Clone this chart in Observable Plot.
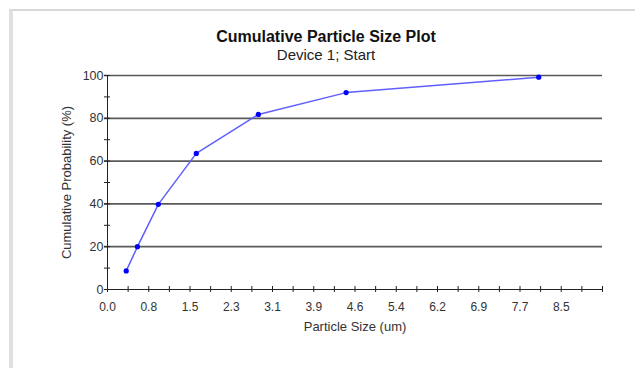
<!DOCTYPE html>
<html>
<head>
<meta charset="utf-8">
<script src="https://cdn.jsdelivr.net/npm/d3@7"></script>
<script src="https://cdn.jsdelivr.net/npm/@observablehq/plot@0.6"></script>
<style>
  html, body { margin: 0; padding: 0; background: #fff; }
  #wrap { position: relative; width: 635px; height: 368px; overflow: hidden; font-family: "Liberation Sans", Arial, sans-serif; }
  #frame { position: absolute; left: 9px; top: 9px; width: 700px; height: 400px; border-top: 2px solid #d9d9d9; border-left: 4px solid #e0e0e0; }
  .title { position: absolute; left: 176px; width: 300px; text-align: center; color: #111; white-space: nowrap; }
  #t1 { top: 28px; font-size: 16px; font-weight: bold; }
  #t2 { top: 46px; font-size: 15px; color: #222; }
  #chart { position: absolute; left: 0; top: 0; }
</style>
</head>
<body>
<div id="wrap">
  <div id="frame"></div>
  <div id="chart"></div>
  <div class="title" id="t1">Cumulative Particle Size Plot</div>
  <div class="title" id="t2">Device 1; Start</div>
</div>
<script>
// Data
const particleSize = [0.35, 0.56, 0.95, 1.66, 2.82, 4.46, 8.06];
const cumulativeProb = [8.7, 20, 39.8, 63.6, 81.8, 92, 99.2];

// Axis ticks
const xTickStep = 0.771;
const xTickLabels = ["0.0", "0.8", "1.5", "2.3", "3.1", "3.9", "4.6", "5.4", "6.2", "6.9", "7.7", "8.5"];
const xMajorCount = 12; // intervals on the axis
const yTickLabels = [0, 20, 40, 60, 80, 100];
const yMinorStep = 10;

const xMax = xTickStep * xMajorCount;
const xMajor = xTickLabels.map((_, i) => i * xTickStep);
const xAllTicks = d3.range(0, xMajorCount * 2 + 1).map(i => i * xTickStep / 2);
const yAllTicks = d3.range(0, 101, yMinorStep);

const data = particleSize.map((s, i) => ({size: s, prob: cumulativeProb[i]}));

const chart = Plot.plot({
  width: 635,
  height: 368,
  marginLeft: 107,
  marginRight: 33,
  marginTop: 75,
  marginBottom: 79,
  style: {fontFamily: '"Liberation Sans", Arial, sans-serif', fontSize: "12px", background: "transparent", color: "#333"},
  x: {domain: [0, xMax]},
  y: {domain: [0, 100]},
  marks: [
    // gridlines
    Plot.ruleY(yTickLabels.filter(d => d > 0), {x1: 0, x2: xMax, stroke: "#5a5a5a", strokeWidth: 1.7, strokeOpacity: 1, insetLeft: -3}),
    // axis lines
    Plot.ruleX([0], {y1: 0, y2: 100, stroke: "#222", strokeWidth: 1}),
    Plot.ruleY([0], {x1: 0, x2: xMax, stroke: "#222", strokeWidth: 1}),
    // crossing ticks
    Plot.ruleY(yAllTicks, {x1: 0, x2: 0, insetLeft: -3, insetRight: -3, stroke: "#222"}),
    Plot.ruleX(xAllTicks, {y1: 0, y2: 0, insetTop: -3, insetBottom: -3, stroke: "#222"}),
    // tick labels
    Plot.axisX({ticks: xMajor, tickSize: 0, tickPadding: 13, tickFormat: d => xTickLabels[Math.round(d / xTickStep)], label: null, fontSize: 12, fill: "#333"}),
    Plot.axisY({ticks: yTickLabels, tickSize: 0, tickPadding: 4, label: null, fontSize: 12.5, fill: "#333"}),
    // axis titles
    Plot.text(["Particle Size (um)"], {frameAnchor: "bottom", dy: 41, fontSize: 13, fill: "#333"}),
    Plot.text(["Cumulative Probability (%)"], {frameAnchor: "left", dx: -41, rotate: -90, textAnchor: "middle", fontSize: 13, fill: "#333"}),
    // series
    Plot.line(data, {x: "size", y: "prob", stroke: "#5f5fff", strokeWidth: 1.5}),
    Plot.dot(data, {x: "size", y: "prob", r: 2.6, fill: "#0000ff", stroke: "none"})
  ]
});
document.getElementById("chart").appendChild(chart);
</script>
</body>
</html>
